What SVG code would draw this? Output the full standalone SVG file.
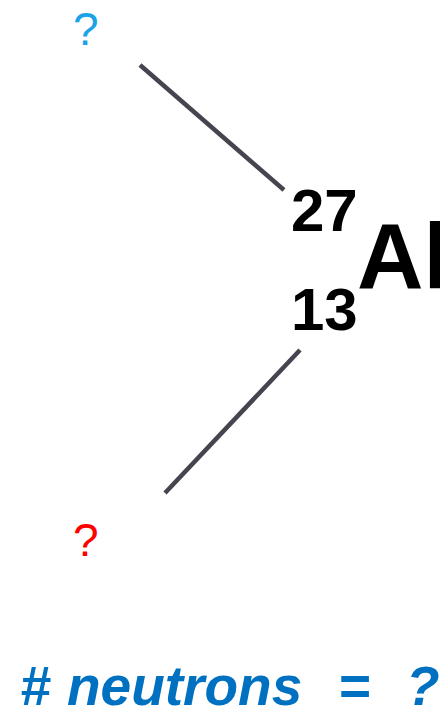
<svg xmlns="http://www.w3.org/2000/svg" width="440" height="713" viewBox="0 0 440 713">
<style>
.t{font-family:"Liberation Sans",Arial,sans-serif}
.b{font-weight:bold;fill:#000}
.q{font-size:46px}
.c{stroke:#45454f;stroke-width:4.5;fill:none}
</style>
<rect width="440" height="713" fill="#fff"/>
<g id="mass-question"><text class="t q" x="73" y="45" fill="#1aa3e8">?</text></g>
<g id="atomic-question"><text class="t q" x="73" y="556" fill="#ff0000">?</text></g>
<g id="isotope">
<text class="t b" x="291" y="231" font-size="60">27</text>
<text class="t b" x="291" y="330" font-size="60">13</text>
<text class="t b" x="357" y="288" font-size="92">Al</text>
</g>
<g id="connectors">
<line class="c" x1="140" y1="65" x2="284" y2="190"/>
<line class="c" x1="300" y1="350" x2="165" y2="493"/>
</g>
<g id="neutrons">
<text class="t" font-weight="bold" font-style="italic" font-size="55" fill="#0070c0" y="705"><tspan x="20">#</tspan><tspan x="67">neutrons</tspan><tspan x="338">=</tspan><tspan x="406">?</tspan></text>
</g>
</svg>
